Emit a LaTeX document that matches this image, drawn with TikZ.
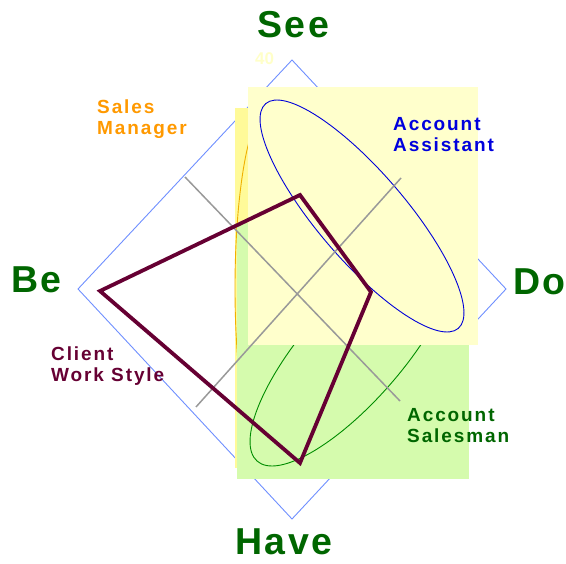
\documentclass[tikz,border=0pt]{standalone}
\usepackage{fontspec}
\setmainfont{Liberation Sans}
\newfontfamily\bigfont[LetterSpace=7]{Liberation Sans}
\newfontfamily\smallfont[LetterSpace=10]{Liberation Sans}
\definecolor{axisgreen}{HTML}{006600}
\definecolor{assistblue}{HTML}{0000DD}
\definecolor{mgrorange}{HTML}{FF9900}
\definecolor{ellorange}{HTML}{F0B000}
\definecolor{clientred}{HTML}{660033}
\definecolor{diamblue}{HTML}{6F8FFF}
\definecolor{gridgray}{HTML}{999999}
\definecolor{paleyellow}{HTML}{FFFFCC}
\definecolor{stripyellow}{HTML}{FFFA99}
\definecolor{palegreen}{HTML}{D5FBAD}
\definecolor{numyellow}{HTML}{FFFFC8}
\tikzset{
  biglabel/.style={inner sep=0pt, text=axisgreen, font=\bigfont\bfseries\fontsize{37.5}{40}\selectfont},
  rolelabel/.style={inner sep=0pt, align=left, anchor=base west, font=\smallfont\bfseries\fontsize{19}{21}\selectfont},
  roleellipse/.style={line width=0.9pt},
  gridline/.style={gridgray, line width=1.5pt},
}
\begin{document}
\begin{tikzpicture}[x=1pt,y=-1pt]
\useasboundingbox (0,0) rectangle (566,564);
% diamond
\coordinate (dt) at (292,60);
\coordinate (dr) at (506,289);
\coordinate (db) at (292,519);
\coordinate (dl) at (78,289);
\draw[diamblue, line width=0.9pt] (dt) -- (dr) -- (db) -- (dl) -- cycle;
% Sales Manager region
\fill[stripyellow] (235,108) rectangle (302,468);
\draw[ellorange, roleellipse] (268.5,288) ellipse [x radius=33.5, y radius=180];
% Account Salesman region
\fill[palegreen] (237,223) rectangle (469,479);
\draw[green!55!black, roleellipse, rotate around={49:(353,351)}] (353,351) ellipse [x radius=146, y radius=50];
% Account Assistant region
\fill[paleyellow] (248,87) rectangle (478,345);
\draw[blue!85!black, roleellipse, rotate around={-49.4:(362,216)}] (362,216) ellipse [x radius=148, y radius=44];
% grid lines
\coordinate (g1a) at (185,177);
\coordinate (g1b) at (400,401);
\coordinate (g2a) at (401,178);
\coordinate (g2b) at (196,407);
\draw[gridline] (g1a) -- (g1b);
\draw[gridline] (g2a) -- (g2b);
% client polygon
\coordinate (pt) at (300,195);
\coordinate (pr) at (371,292);
\coordinate (pb) at (300,463);
\coordinate (pl) at (100,291);
\draw[clientred, line width=3.8pt, line join=miter] (pt) -- (pr) -- (pb) -- (pl) -- cycle;
% axis labels
\node[biglabel, anchor=base] (see) at (293,38) {See};
\node[biglabel, anchor=base west] (be) at (11,293) {Be};
\node[biglabel, anchor=base west] (do) at (513,295) {Do};
\node[biglabel, anchor=base west] (have) at (235,555) {Have};
\node[inner sep=0pt, anchor=base west, text=numyellow, font=\bfseries\fontsize{17}{19}\selectfont] (num) at (255,65) {40};
% role labels (base anchor = last line)
\node[rolelabel, text=mgrorange] (mgr) at (97,135) {Sales\\Manager};
\node[rolelabel, text=assistblue] (assist) at (393,152) {Account\\Assistant};
\node[rolelabel, text=clientred] (client) at (51,382) {Client\\Work Style};
\node[rolelabel, text=axisgreen] (sales) at (407,443) {Account\\Salesman};
\end{tikzpicture}
\end{document}
